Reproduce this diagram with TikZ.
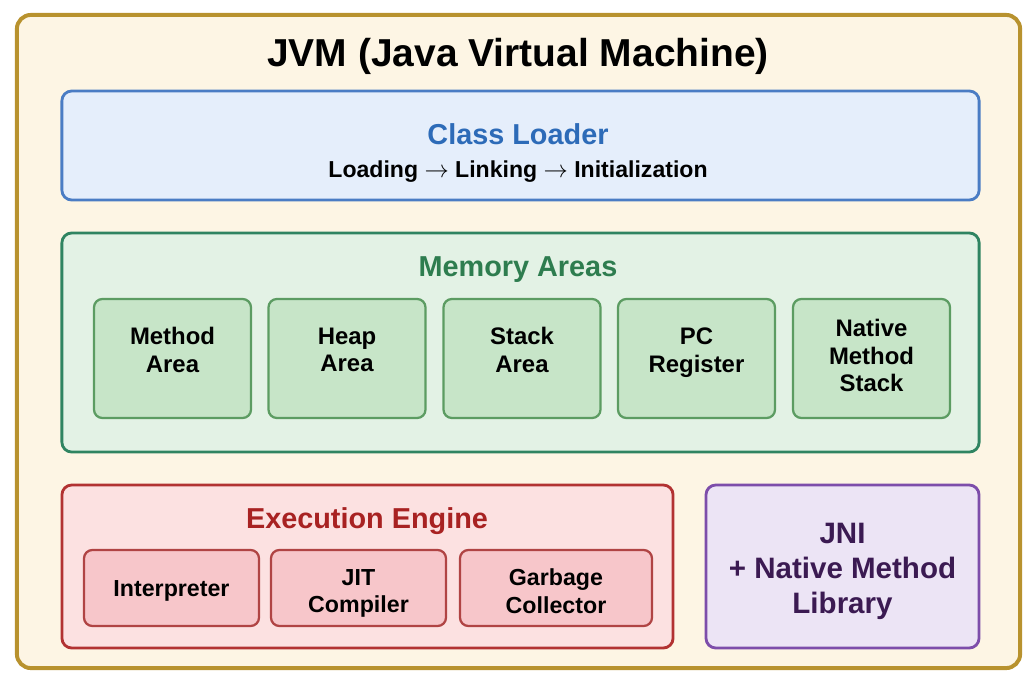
\documentclass[tikz,border=0pt]{standalone}
\usepackage{fontspec}
\setmainfont{Liberation Sans}
\usetikzlibrary{positioning}

\definecolor{jvmline}{HTML}{B8922E}
\definecolor{jvmfill}{HTML}{FDF5E4}
\definecolor{clline}{HTML}{4A7CC4}
\definecolor{clfill}{HTML}{E5EEFB}
\definecolor{cltext}{HTML}{2D6BB8}
\definecolor{memline}{HTML}{2F8461}
\definecolor{memfill}{HTML}{E3F2E5}
\definecolor{memtext}{HTML}{2E7D4F}
\definecolor{arealine}{HTML}{5C9C62}
\definecolor{areafill}{HTML}{C7E5C8}
\definecolor{exline}{HTML}{B23232}
\definecolor{exfill}{HTML}{FCE1E1}
\definecolor{extext}{HTML}{A82222}
\definecolor{partline}{HTML}{B04444}
\definecolor{partfill}{HTML}{F7C6CA}
\definecolor{jniline}{HTML}{7D4DAA}
\definecolor{jnifill}{HTML}{ECE4F5}
\definecolor{jnitext}{HTML}{3B1A52}

\tikzset{
  panel/.style={rectangle, rounded corners=7pt, line width=2pt, inner sep=0pt},
  area/.style={rectangle, rounded corners=6pt, line width=1.6pt, draw=arealine, fill=areafill,
    minimum width=3.925cm, minimum height=2.975cm},
  areatext/.style={align=center, font=\bfseries\fontsize{17}{19.6}\selectfont},
  part/.style={rectangle, rounded corners=6pt, line width=1.6pt, draw=partline, fill=partfill,
    minimum height=1.9cm},
  parttext/.style={align=center, font=\bfseries\fontsize{16.5}{19.4}\selectfont},
  heading/.style={font=\bfseries\fontsize{20.5}{24}\selectfont}
}

\begin{document}
\begin{tikzpicture}[x=0.025cm,y=-0.025cm]
\useasboundingbox (0,0) rectangle (1024,677);
% outer frame
\node[panel, rounded corners=10pt, line width=2.8pt, draw=jvmline, fill=jvmfill,
  minimum width=25.075cm, minimum height=16.325cm] (jvm) at (518.5,341.5) {};
\node[font=\bfseries\fontsize{27.7}{32}\selectfont] (jvmtitle) at (518,56) {JVM (Java Virtual Machine)};

% class loader
\node[panel, draw=clline, fill=clfill, minimum width=22.925cm, minimum height=2.725cm] (loader) at (520.5,145.5) {};
\node[heading, text=cltext] (loadertitle) at (518,134) {Class Loader};
\node[font=\bfseries\fontsize{16.4}{19}\selectfont] (phases) at (518,172)
  {Loading $\rightarrow$ Linking $\rightarrow$ Initialization};

% memory areas
\node[panel, draw=memline, fill=memfill, minimum width=22.925cm, minimum height=5.475cm] (memory) at (520.5,342.5) {};
\node[heading, text=memtext] (memtitle) at (518,270) {Memory Areas};
\node[area] (method) at (172.5,358.5) {};
\node[area] (heap) at (347,358.5) {};
\node[area] (stack) at (522,358.5) {};
\node[area] (pcreg) at (696.5,358.5) {};
\node[area] (native) at (871.5,358.5) {};
\node[areatext] (methodtext) at ([yshift=6pt]method.center) {Method\\Area};
\node[areatext] (heaptext) at ([yshift=6pt]heap.center) {Heap\\Area};
\node[areatext] (stacktext) at ([yshift=6pt]stack.center) {Stack\\Area};
\node[areatext] (pcregtext) at ([yshift=4.2pt]pcreg.center) {PC\\Register};
\node[areatext] (nativetext) at ([yshift=2pt]native.center) {Native\\Method\\Stack};

% execution engine
\node[panel, draw=exline, fill=exfill, minimum width=15.275cm, minimum height=4.075cm] (engine) at (367.5,566.5) {};
\node[heading, text=extext] (enginetitle) at (367,521) {Execution Engine};
\node[part, minimum width=4.375cm] (interp) at (171.5,588) {};
\node[part, minimum width=4.375cm] (jit) at (358.5,588) {};
\node[part, minimum width=4.8cm] (gc) at (556,588) {};
\node[parttext] (interptext) at ([yshift=-2pt]interp.center) {Interpreter};
\node[parttext] (jittext) at ([yshift=-4pt]jit.center) {JIT\\Compiler};
\node[parttext] (gctext) at ([yshift=-2.2pt]gc.center) {Garbage\\Collector};

% native interface
\node[panel, draw=jniline, fill=jnifill, minimum width=6.825cm, minimum height=4.075cm] (jni) at (842.5,566.5) {};
\node[align=center, text=jnitext, font=\bfseries\fontsize{21}{24.8}\selectfont] (jnitext)
  at ([yshift=-3.5pt]jni.center) {JNI\\+ Native Method\\Library};
\end{tikzpicture}
\end{document}
